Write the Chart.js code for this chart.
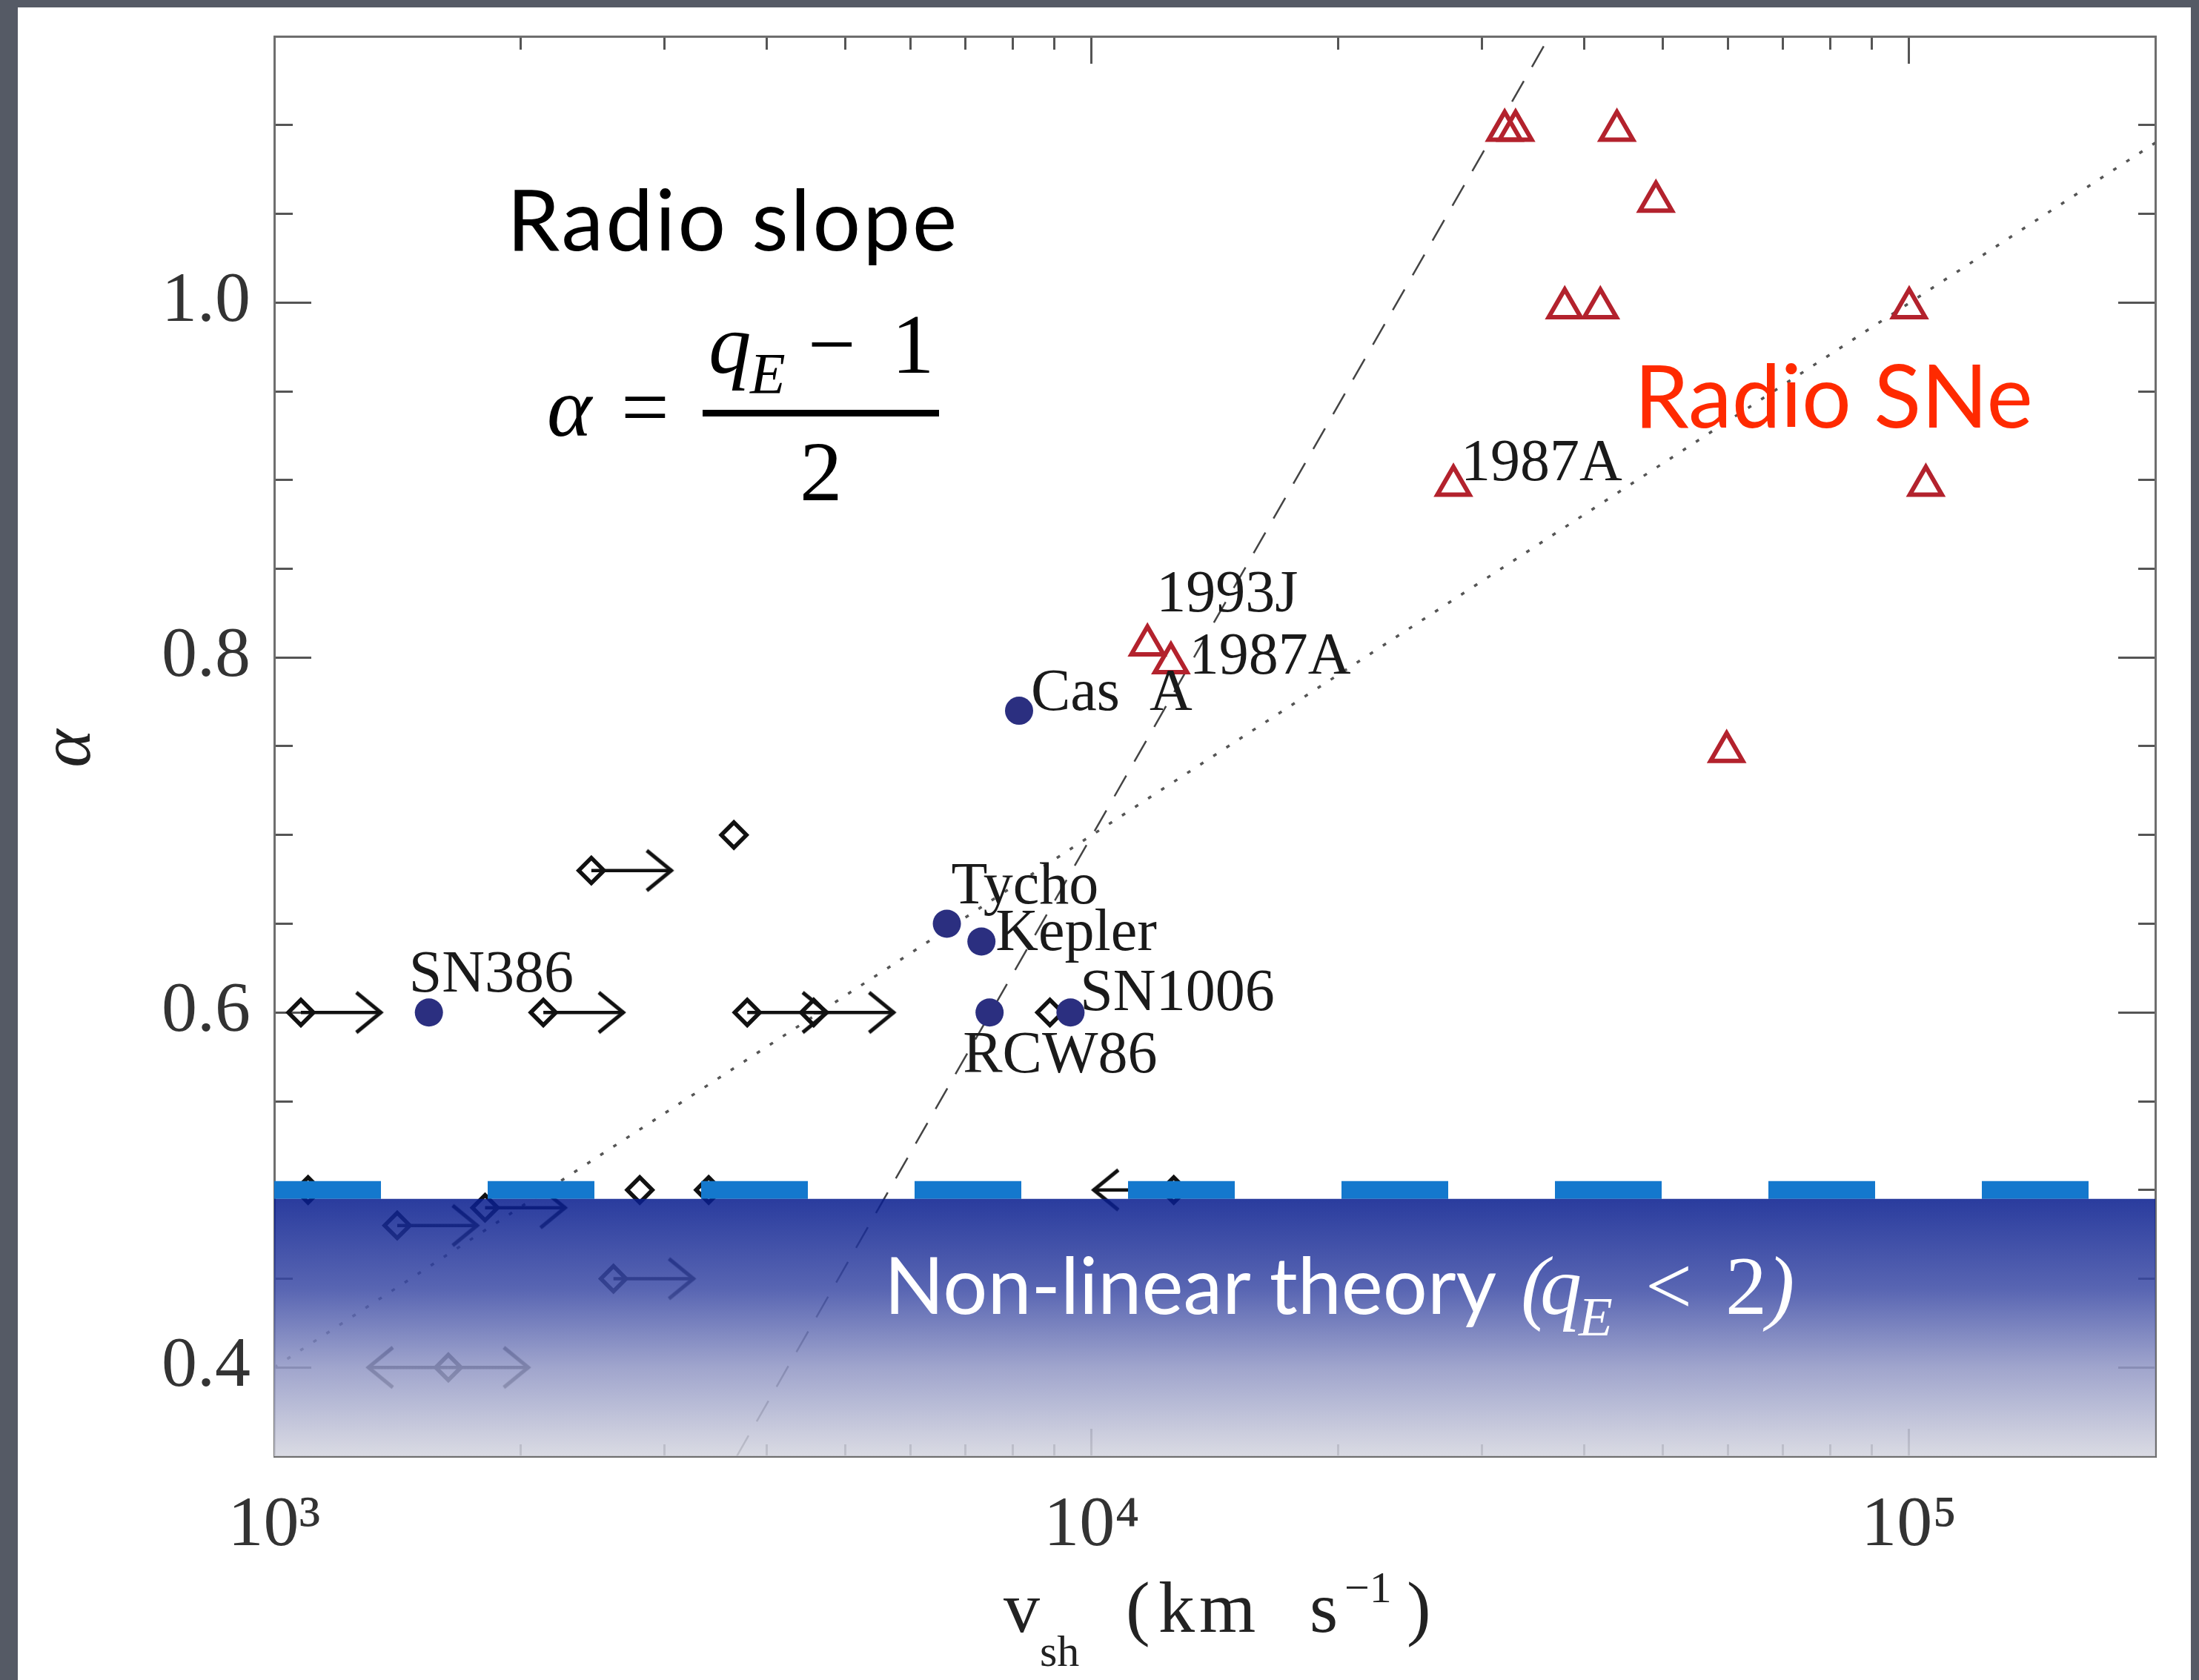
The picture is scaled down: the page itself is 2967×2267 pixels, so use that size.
<!DOCTYPE html>
<html>
<head>
<meta charset="utf-8">
<script src="https://cdn.jsdelivr.net/npm/chart.js@4.4.1/dist/chart.umd.min.js"></script>
<style>
  html, body { margin: 0; padding: 0; }
  body { width: 2967px; height: 2267px; background: #555a65; position: relative; overflow: hidden; }
  #panel { position: absolute; left: 24px; top: 10px; width: 2932px; height: 2257px; background: #fff; }
  #overlay { position: absolute; left: 0; top: 0; pointer-events: none; }
</style>
</head>
<body>
<div id="panel"><canvas id="chart" width="2932" height="2257"></canvas></div>

<svg id="overlay" width="2967" height="2267" xmlns="http://www.w3.org/2000/svg">
  <!-- annotation: radio slope formula -->
  <text x="684" y="338" font-family="Lato" font-size="114" letter-spacing="3" fill="#000">Radio slope</text>
  <g font-family="Liberation Serif" font-size="115" fill="#000">
    <text x="738" y="588" font-style="italic">α</text>
    <text x="838" y="588">=</text>
    <rect x="948" y="553" width="319" height="9"></rect>
    <text x="956" y="503" font-style="italic">q</text>
    <text x="1012" y="530" font-size="78" font-style="italic">E</text>
    <text x="1090" y="503">−</text>
    <text x="1203" y="503">1</text>
    <text x="1079" y="675">2</text>
  </g>

  <text x="2205" y="577" font-family="Lato" font-size="118" fill="#ff2a00">Radio SNe</text>

  <g fill="#fff">
    <text x="1193" y="1773" font-family="Lato" font-size="106">Non-linear theory</text>
    <g font-family="Liberation Serif" font-size="112">
      <text x="2052" y="1773" font-style="italic">(</text>
      <text x="2078" y="1773" font-style="italic">q</text>
      <text x="2130" y="1802" font-size="75" font-style="italic">E</text>
      <text x="2220" y="1773">&lt;</text>
      <text x="2328" y="1773">2</text>
      <text x="2384" y="1773" font-style="italic">)</text>
    </g>
  </g>

  <!-- axis titles -->
  <g font-family="Liberation Serif" fill="#222">
    <text x="1354" y="2202" font-size="98">v</text>
    <text x="1403" y="2248" font-size="60">sh</text>
    <text x="1519" y="2202" font-size="98">(</text>
    <text x="1563" y="2202" font-size="98" letter-spacing="6">km</text>
    <text x="1767" y="2202" font-size="98">s</text>
    <text x="1814" y="2162" font-size="60">−1</text>
    <text x="1898" y="2202" font-size="98">)</text>
    <text x="0" y="0" transform="translate(121,1010) rotate(-90)" text-anchor="middle" font-size="98" font-style="italic">α</text>
  </g>
</svg>

<script>
// --- Data: shock velocity (km/s) vs radio slope alpha ---
const sneVelocity = [32000, 33000, 43900, 49000, 37900, 41900, 100000, 27700, 104800, 59800, 11700, 12500];
const sneAlpha    = [1.097, 1.097, 1.097, 1.057, 0.997, 0.997, 0.997, 0.897, 0.897, 0.747, 0.807, 0.797];
const sneNames    = ['', '', '', '', '', '', '', '1987A', '', '', '1993J', '1987A'];

const snrNames    = ['Cas A', 'Tycho', 'Kepler', 'RCW86', 'SN1006', 'SN386'];
const snrVelocity = [8150, 6650, 7330, 7500, 9420, 1546];
const snrAlpha    = [0.77, 0.65, 0.64, 0.60, 0.60, 0.60];

// lower / upper limits on the velocity
const limVelocity = [1078, 2134, 2443, 3650, 3790, 4570, 8890, 1100, 2800, 3400, 12600, 1811, 1414, 2600, 1633];
const limAlpha    = [0.60, 0.60, 0.68, 0.70, 0.60, 0.60, 0.60, 0.50, 0.50, 0.50, 0.50, 0.49, 0.48, 0.45, 0.40];
const limArrow    = ['right', 'right', 'right', '', 'right', 'right', '', '', '', '', 'left', 'right', 'right', 'right', 'both'];

const dashedFitV = [3680, 36300];
const dashedFitA = [0.35, 1.15];
const dottedFitV = [1000, 200000];
const dottedFitA = [0.40, 1.09];
const linearV    = [1000, 200000];
const linearA    = [0.50, 0.50];
const bandV      = [1000, 200000];
const bandA      = [0.495, 0.495];

const yLabelled   = [0.4, 0.6, 0.8, 1.0];
const xTickLabels = { 1000: '10³', 10000: '10⁴', 100000: '10⁵' };

// --- style bits ---
const arrowFactor = 1.255;
const labelOffset = {
    'Cas A': [16, -1], 'Tycho': [6, -28], 'Kepler': [19, 12],
    'RCW86': [-36, 81], 'SN1006': [13, -3], 'SN386': [-27, -28]
};
const sneLabelOffset = { 7: [10, -7], 10: [12, -45], 11: [25, 15] };

const toXY = (vs, as) => vs.map((v, i) => ({ x: v, y: as[i] }));
const isDecade = v => Math.abs(Math.log10(v) - Math.round(Math.log10(v))) < 1e-6;
const isLabelled = v => yLabelled.some(t => Math.abs(t - v) < 1e-6);
const keepLogTicks = scale => {
    scale.ticks = scale.ticks.filter(t => {
        const m = t.value / Math.pow(10, Math.floor(Math.log10(t.value) + 1e-9));
        return Math.abs(m - Math.round(m)) < 1e-6;
    });
};
// pin an axis box to a fixed size and drop the label overhang padding
const pinSize = (prop, px) => s => {
    s[prop] = px;
    s.paddingLeft = s.paddingRight = s.paddingTop = s.paddingBottom = 0;
};

// open chevron used as arrow head
const chevron = document.createElement('canvas');
chevron.width = 80; chevron.height = 80;
const cc = chevron.getContext('2d');
cc.strokeStyle = '#111';
cc.lineWidth = 5;
cc.beginPath();
cc.moveTo(6, 13); cc.lineTo(39, 40); cc.lineTo(6, 67);
cc.stroke();

function bandGradient(context) {
    const chart = context.chart;
    const area = chart.chartArea;
    if (!area) return 'rgba(40,60,160,0.85)';
    const top = chart.scales.y.getPixelForValue(bandA[0]);
    const g = chart.ctx.createLinearGradient(0, top, 0, area.bottom);
    g.addColorStop(0, 'rgba(7,28,142,0.86)');
    g.addColorStop(0.35, 'rgba(61,76,166,0.86)');
    g.addColorStop(0.65, 'rgba(143,149,196,0.86)');
    g.addColorStop(1, 'rgba(212,213,223,0.86)');
    return g;
}

const datasets = [];

datasets.push({
    label: 'Non-linear theory', data: toXY(bandV, bandA), showLine: true, fill: 'start',
    borderWidth: 0, pointRadius: 0, backgroundColor: bandGradient, order: 0
});
datasets.push({
    label: 'Linear theory', data: toXY(linearV, linearA), showLine: true,
    borderColor: '#1478cd', borderWidth: 24, borderDash: [144, 144], borderCapStyle: 'butt',
    pointRadius: 0, order: 1
});
datasets.push({
    label: 'Radio SNe', data: toXY(sneVelocity, sneAlpha), pointStyle: 'triangle',
    pointRadius: 25, borderWidth: 6, borderColor: '#b3222d', backgroundColor: 'rgba(0,0,0,0)', order: 2
});
datasets.push({
    label: 'SNRs', data: toXY(snrVelocity, snrAlpha), pointStyle: 'circle',
    pointRadius: 19, borderWidth: 0, backgroundColor: '#2b2f80', order: 2
});
datasets.push({
    label: 'Limits', data: toXY(limVelocity, limAlpha), pointStyle: 'rectRot',
    pointRadius: 17, borderWidth: 5.5, borderColor: '#111', backgroundColor: 'rgba(0,0,0,0)', order: 3
});

limArrow.forEach((dir, i) => {
    const dirs = dir === 'both' ? ['left', 'right'] : (dir ? [dir] : []);
    dirs.forEach(d => {
        const tip = d === 'right' ? limVelocity[i] * arrowFactor : limVelocity[i] / arrowFactor;
        datasets.push({
            label: 'arrow', data: [{ x: limVelocity[i], y: limAlpha[i] }, { x: tip, y: limAlpha[i] }],
            showLine: true, borderColor: '#111', borderWidth: 4.5,
            pointRadius: [0, 20], pointStyle: chevron, pointRotation: d === 'right' ? 0 : 180, order: 3
        });
    });
});

datasets.push({
    label: 'dashed', data: toXY(dashedFitV, dashedFitA), showLine: true,
    borderColor: '#444', borderWidth: 2.5, borderDash: [32, 22], pointRadius: 0, order: 4
});
datasets.push({
    label: 'dotted', data: toXY(dottedFitV, dottedFitA), showLine: true,
    borderColor: '#555', borderWidth: 3.5, borderDash: [5, 16], pointRadius: 0, order: 4
});

// --- point labels ---
const pointLabels = {
    id: 'pointLabels',
    afterDatasetsDraw(chart) {
        const { ctx, scales: { x, y } } = chart;
        ctx.save();
        ctx.font = '80px "Liberation Serif"';
        ctx.fillStyle = '#1a1a1a';
        ctx.textBaseline = 'alphabetic';
        ctx.textAlign = 'left';
        snrNames.forEach((name, i) => {
            const off = labelOffset[name];
            const text = name === 'Cas A' ? 'Cas  A' : name;
            ctx.fillText(text, x.getPixelForValue(snrVelocity[i]) + off[0], y.getPixelForValue(snrAlpha[i]) + off[1]);
        });
        sneNames.forEach((name, i) => {
            if (!name) return;
            const off = sneLabelOffset[i];
            ctx.fillText(name, x.getPixelForValue(sneVelocity[i]) + off[0], y.getPixelForValue(sneAlpha[i]) + off[1]);
        });
        ctx.restore();
    }
};

const tickFont = { family: 'Liberation Serif', size: 96 };
const axisBorder = { display: true, color: '#6e6e6e', width: 3 };

new Chart(document.getElementById('chart'), {
    type: 'scatter',
    data: { datasets },
    options: {
        responsive: false,
        devicePixelRatio: 1,
        animation: false,
        events: [],
        layout: { padding: 0 },
        plugins: { legend: { display: false }, tooltip: { enabled: false } },
        scales: {
            x: {
                type: 'logarithmic', position: 'bottom', min: 1000, max: 200000,
                border: axisBorder,
                afterBuildTicks: keepLogTicks,
                grid: {
                    drawOnChartArea: false, tickLength: -37, tickWidth: 3, tickColor: '#555',
                    tickBorderDash: c => isDecade(c.tick.value) ? [] : [18, 100]
                },
                ticks: {
                    font: tickFont, color: '#333', padding: 74, autoSkip: false, maxRotation: 0,
                    callback: v => xTickLabels[Math.round(v)] || ''
                },
                afterFit: pinSize('height', 302)
            },
            xTop: {
                type: 'logarithmic', position: 'top', min: 1000, max: 200000,
                border: axisBorder,
                afterBuildTicks: keepLogTicks,
                grid: {
                    drawOnChartArea: false, tickLength: -37, tickWidth: 3, tickColor: '#555',
                    tickBorderDash: c => isDecade(c.tick.value) ? [] : [18, 19],
                    tickBorderDashOffset: c => isDecade(c.tick.value) ? 0 : 18
                },
                ticks: { display: false, autoSkip: false },
                afterFit: pinSize('height', 39)
            },
            y: {
                type: 'linear', position: 'left', min: 0.35, max: 1.15,
                border: axisBorder,
                grid: {
                    drawOnChartArea: false, tickLength: -50, tickWidth: 3, tickColor: '#555',
                    tickBorderDash: c => isLabelled(c.tick.value) ? [] : [25, 25],
                    tickBorderDashOffset: c => isLabelled(c.tick.value) ? 0 : 25
                },
                ticks: {
                    stepSize: 0.05, font: tickFont, color: '#333', padding: 82, autoSkip: false,
                    callback: v => isLabelled(v) ? v.toFixed(1) : ''
                },
                afterFit: pinSize('width', 346)
            },
            yRight: {
                type: 'linear', position: 'right', min: 0.35, max: 1.15,
                border: axisBorder,
                grid: {
                    drawOnChartArea: false, tickLength: -50, tickWidth: 3, tickColor: '#555',
                    tickBorderDash: c => isLabelled(c.tick.value) ? [] : [25, 100]
                },
                ticks: { display: false, stepSize: 0.05, autoSkip: false },
                afterFit: pinSize('width', 48)
            }
        }
    },
    plugins: [pointLabels]
});
</script>
</body>
</html>
